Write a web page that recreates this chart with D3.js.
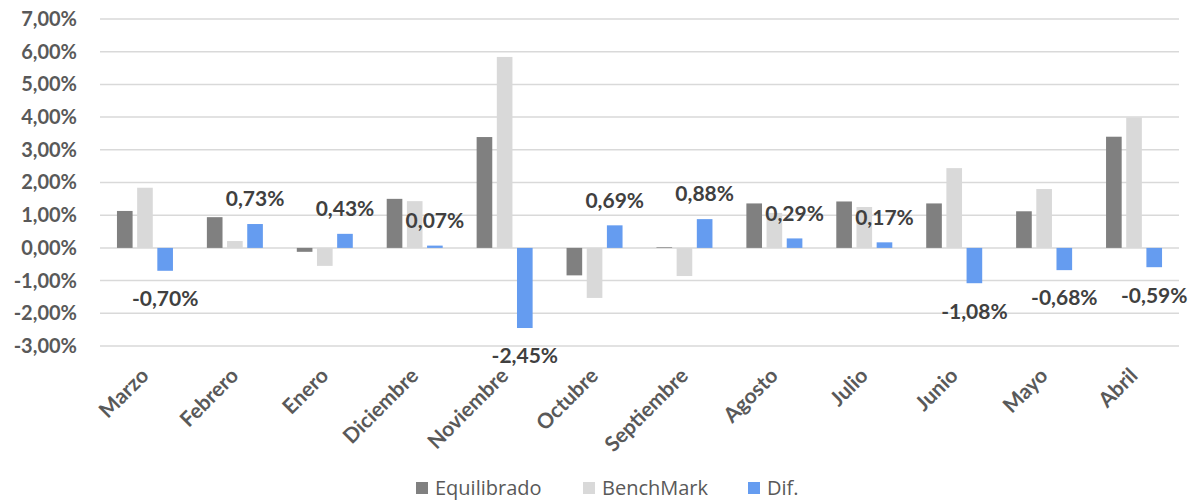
<!DOCTYPE html>
<html>
<head>
<meta charset="utf-8">
<script src="https://cdn.jsdelivr.net/npm/d3@7"></script>
<style>
  body { margin: 0; background: #fff; }
  svg { display: block; font-family: Lato, "Open Sans", sans-serif; }
</style>
</head>
<body>
<svg id="chart" width="1190" height="503"></svg>
<script>
// DATA
const months = ["Marzo", "Febrero", "Enero", "Diciembre", "Noviembre", "Octubre",
  "Septiembre", "Agosto", "Julio", "Junio", "Mayo", "Abril"];
const equilibrado = [1.13, 0.94, -0.12, 1.50, 3.39, -0.84, 0.02, 1.36, 1.42, 1.36, 1.12, 3.40];
const benchmark = [1.84, 0.21, -0.55, 1.43, 5.84, -1.53, -0.86, 1.07, 1.25, 2.44, 1.80, 3.99];
const dif = [-0.70, 0.73, 0.43, 0.07, -2.45, 0.69, 0.88, 0.29, 0.17, -1.08, -0.68, -0.59];
const seriesNames = ["Equilibrado", "BenchMark", "Dif."];
const seriesColors = ["#808080", "#d9d9d9", "#659cf0"];
const yTicks = [-3, -2, -1, 0, 1, 2, 3, 4, 5, 6, 7];

const svg = d3.select("#chart");
const width = 1190, height = 503;
const margin = { top: 19, right: 11, bottom: 157, left: 100 };
const innerWidth = width - margin.left - margin.right,
  innerHeight = height - margin.top - margin.bottom;

const locale = d3.formatLocale({ decimal: ",", thousands: ".", grouping: [3], currency: ["", "€"], minus: "-" });
const pct = (v) => locale.format(".2f")(v) + "%";

const series = [equilibrado, benchmark, dif];
const rows = months.map((m, i) => ({
  month: m,
  values: series.map((s, j) => ({ key: seriesNames[j], value: s[i], idx: j })),
}));

const xScale = d3.scaleBand().domain(months).range([0, innerWidth]).paddingInner(0).paddingOuter(0);
const xInner = d3.scaleBand().domain(seriesNames).range([0, 56]).paddingInner(0.225);
const yScale = d3.scaleLinear().domain([-3, 7]).range([innerHeight, 0]);

const g = svg.append("g").attr("transform", `translate(${margin.left},${margin.top})`);

// gridlines
g.append("g")
  .selectAll("line")
  .data(yTicks)
  .join("line")
  .attr("x1", 0)
  .attr("x2", innerWidth)
  .attr("y1", (d) => yScale(d))
  .attr("y2", (d) => yScale(d))
  .attr("stroke", "#d9d9d9")
  .attr("stroke-width", 1.5);

// y axis labels
const yl = g.append("g")
  .call(d3.axisLeft(yScale).tickValues(yTicks).tickFormat(pct).tickSize(0).tickPadding(23));
yl.select(".domain").remove();
yl.selectAll("text")
  .attr("fill", "#595959")
  .style("font-size", "20px")
  .style("font-weight", "bold")
  .style("font-family", "Lato, sans-serif");

// bars
const groups = g.append("g")
  .selectAll("g")
  .data(rows)
  .join("g")
  .attr("transform", (d) => `translate(${xScale(d.month) + (xScale.bandwidth() - 56) / 2},0)`);

groups.selectAll("rect")
  .data((d) => d.values)
  .join("rect")
  .attr("x", (d) => xInner(d.key))
  .attr("width", xInner.bandwidth())
  .attr("y", (d) => yScale(Math.max(0, d.value)))
  .attr("height", (d) => Math.abs(yScale(d.value) - yScale(0)))
  .attr("fill", (d) => seriesColors[d.idx]);

// data labels (Dif. only)
groups.append("text")
  .attr("x", xInner("Dif.") + xInner.bandwidth() / 2)
  .attr("y", (d) => {
    const v = d.values[2].value;
    return v >= 0 ? yScale(v) - 25 : yScale(v) + 28;
  })
  .attr("dy", "0.35em")
  .attr("text-anchor", "middle")
  .attr("fill", "#404040")
  .style("font-size", "21px")
  .style("font-weight", "bold")
  .text((d) => pct(d.values[2].value));

// x axis labels
const xl = g.append("g").attr("transform", `translate(0,${innerHeight})`);
xl.selectAll("text")
  .data(months)
  .join("text")
  .attr("transform", (d) => `translate(${xScale(d) + xScale.bandwidth() / 2 + 5},${31}) rotate(-45)`)
  .attr("text-anchor", "end")
  .attr("fill", "#595959")
  .style("font-size", "21px")
  .style("font-weight", "bold")
  .text((d) => d);

// legend
const legendItems = [
  { name: seriesNames[0], color: seriesColors[0], x: 416 },
  { name: seriesNames[1], color: seriesColors[1], x: 583 },
  { name: seriesNames[2], color: seriesColors[2], x: 748 },
];
const legend = svg.append("g");
const li = legend.selectAll("g").data(legendItems).join("g")
  .attr("transform", (d) => `translate(${d.x},482)`);
li.append("rect").attr("width", 12).attr("height", 12).attr("fill", (d) => d.color);
li.append("text")
  .attr("x", 19)
  .attr("y", 6)
  .attr("dy", "0.35em")
  .attr("fill", "#595959")
  .style("font-size", "20px")
  .style("font-family", "'Open Sans', sans-serif")
  .text((d) => d.name);
</script>
</body>
</html>
